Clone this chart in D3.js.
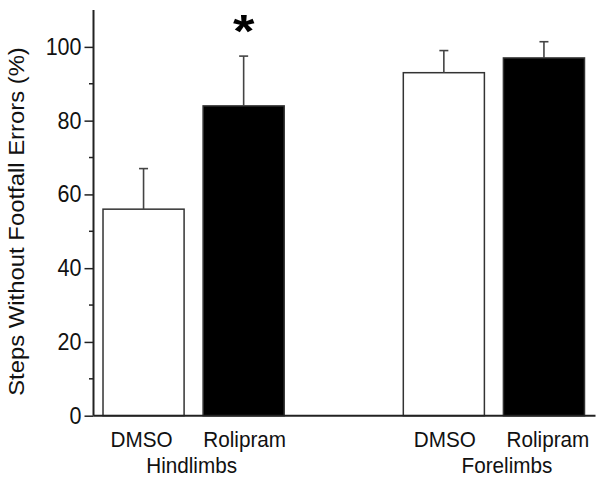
<!DOCTYPE html>
<html>
<head>
<meta charset="utf-8">
<script src="https://cdn.jsdelivr.net/npm/d3@7"></script>
<style>
  html, body { margin: 0; padding: 0; background: #fff; }
  svg { display: block; font-family: "Liberation Sans", Arial, sans-serif; }
</style>
</head>
<body>
<svg id="chart" width="604" height="482"></svg>
<script>
// ---- data ----
const groups = ["Hindlimbs", "Forelimbs"];
const treatments = ["DMSO", "Rolipram"];
const hindlimbValues = [56, 84];
const hindlimbErrors = [11, 13.5];
const forelimbValues = [93, 97];
const forelimbErrors = [6, 4.4];
const yTicks = [0, 20, 40, 60, 80, 100];
const yMinorTicks = [10, 30, 50, 70, 90];
const significant = [[0, 1]]; // [groupIndex, treatmentIndex]

const rows = [];
groups.forEach((g, gi) => {
  const vals = gi === 0 ? hindlimbValues : forelimbValues;
  const errs = gi === 0 ? hindlimbErrors : forelimbErrors;
  treatments.forEach((t, ti) => rows.push({ group: g, treatment: t, value: vals[ti], err: errs[ti], gi, ti }));
});

const svg = d3.select("#chart");
const x0 = 93.5, x1 = 594, yTop = 10, yBottom = 415.7;
const vStretch = 1.08;

const xGroup = d3.scaleBand().domain(groups).range([x0, x1]).paddingInner(1 / 3).paddingOuter(0);
const xTreat = d3.scaleBand().domain(treatments).range([0, xGroup.bandwidth()]).paddingInner(0.19).paddingOuter(0.095);
const y = d3.scaleLinear().domain([0, 110]).range([yBottom, yTop]);

const fillFor = d3.scaleOrdinal().domain(treatments).range(["#ffffff", "#000000"]);
const barCenter = d => xGroup(d.group) + xTreat(d.treatment) + xTreat.bandwidth() / 2;

// bars
svg.append("g").selectAll("rect").data(rows).join("rect")
  .attr("x", d => xGroup(d.group) + xTreat(d.treatment))
  .attr("y", d => y(d.value))
  .attr("width", xTreat.bandwidth())
  .attr("height", d => y(0) - y(d.value))
  .attr("fill", d => fillFor(d.treatment))
  .attr("stroke", "#333")
  .attr("stroke-width", 1.5);

// error bars
const eb = svg.append("g").attr("stroke", "#444").attr("stroke-width", 1.6);
rows.forEach(d => {
  const cx = barCenter(d);
  eb.append("line").attr("x1", cx).attr("x2", cx).attr("y1", y(d.value)).attr("y2", y(d.value + d.err));
  eb.append("line").attr("x1", cx - 4.5).attr("x2", cx + 4.5).attr("y1", y(d.value + d.err)).attr("y2", y(d.value + d.err));
});

// significance asterisk
significant.forEach(([gi, ti]) => {
  const d = rows.find(r => r.gi === gi && r.ti === ti);
  svg.append("text")
    .attr("transform", `translate(${barCenter(d)},${y(d.value + d.err) - 9}) scale(1.2,1)`)
    .attr("text-anchor", "middle")
    .attr("font-size", 46)
    .attr("font-weight", "bold")
    .attr("fill", "#000")
    .text("*");
});

// y axis
const yAxis = d3.axisLeft(y).tickValues(yTicks).tickSize(9).tickPadding(3).tickFormat(d3.format("d"));
const gy = svg.append("g").attr("transform", `translate(${x0},0)`).call(yAxis);
gy.select(".domain").remove();
gy.selectAll(".tick line").attr("stroke", "#222").attr("stroke-width", 1.5);
gy.selectAll(".tick text").attr("font-size", 21.5).attr("fill", "#111")
  .attr("font-family", "'Liberation Sans', Arial, sans-serif")
  .attr("transform", `scale(1,${vStretch})`);
svg.append("line").attr("x1", x0).attr("x2", x0).attr("y1", y(110)).attr("y2", y(0))
  .attr("stroke", "#222").attr("stroke-width", 2);
svg.append("g").selectAll("line").data(yMinorTicks).join("line")
  .attr("x1", x0 - 4.5).attr("x2", x0).attr("y1", d => y(d)).attr("y2", d => y(d))
  .attr("stroke", "#222").attr("stroke-width", 1.5);

// x axis line
svg.append("line").attr("x1", x0).attr("x2", x1 + 1.5).attr("y1", y(0)).attr("y2", y(0))
  .attr("stroke", "#222").attr("stroke-width", 2);

// x labels
const treatLabelOffset = [[-2, 1], [1, 4]];
svg.append("g").selectAll("text").data(rows).join("text")
  .attr("transform", d => `translate(${barCenter(d) + treatLabelOffset[d.gi][d.ti]},447) scale(1,${vStretch})`)
  .attr("text-anchor", "middle")
  .attr("font-size", 20.7)
  .attr("fill", "#111")
  .text(d => d.treatment);

const groupLabelOffset = [-2, 13];
svg.append("g").selectAll("text").data(groups).join("text")
  .attr("transform", (g, i) => `translate(${xGroup(g) + xGroup.bandwidth() / 2 + groupLabelOffset[i]},472.5) scale(1,${vStretch})`)
  .attr("text-anchor", "middle")
  .attr("font-size", 20.7)
  .attr("fill", "#111")
  .text(g => g);

// y title
svg.append("text")
  .attr("transform", `translate(23.5,221.5) rotate(-90) scale(1.11,1)`)
  .attr("text-anchor", "middle")
  .attr("font-size", 21.5)
  .attr("fill", "#111")
  .text("Steps Without Footfall Errors (%)");
</script>
</body>
</html>
